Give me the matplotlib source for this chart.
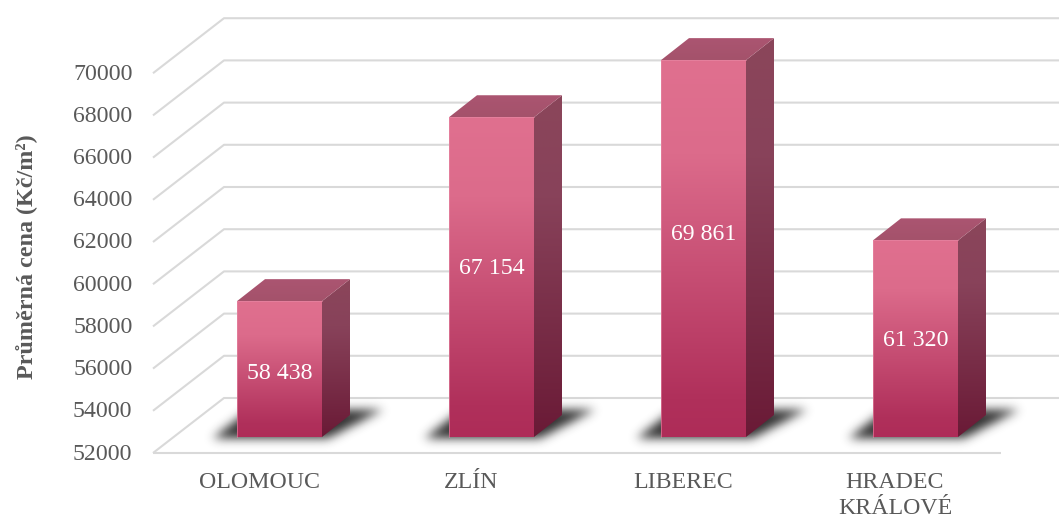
import numpy as np
import matplotlib
matplotlib.use('Agg')
from matplotlib import pyplot as plt
from matplotlib.colors import LinearSegmentedColormap
from matplotlib.patches import Polygon
from matplotlib.path import Path

cities = ['OLOMOUC', 'ZLÍN', 'LIBEREC', 'HRADEC\nKRÁLOVÉ']
prices = [58438, 67154, 69861, 61320]
price_labels = ['58 438', '67 154', '69 861', '61 320']
y_ticks = [52000, 54000, 56000, 58000, 60000, 62000, 64000, 66000, 68000, 70000]

plt.rcParams['font.family'] = ['Liberation Serif', 'DejaVu Serif']

W, H = 1059, 518
PX_X = 212.0      # pixels per category
PX_Y = 42.2 / 2000  # pixels per Kc
X0, Y0 = 153.0, 453.0  # pixel of the front floor corner
FS = 17.2

fig = plt.figure(figsize=(W / 100, H / 100), dpi=100)
ax = fig.add_axes([0, 0, 1, 1])
ax.set_xlim(-X0 / PX_X, (W - X0) / PX_X)
ax.set_ylim(y_ticks[0] - (H - Y0) / PX_Y, y_ticks[0] + Y0 / PX_Y)
ax.axis('off')


def dx(px):
    return px / PX_X


def dy(px):
    return px / PX_Y


# walls and floor
wall_dx, wall_dy = dx(71), dy(55)
n = len(cities)
grid = dict(color='#d9d9d9', lw=1.5, zorder=1, solid_capstyle='butt')
for v in y_ticks:
    ax.plot([0, wall_dx, n + wall_dx], [v, v + wall_dy, v + wall_dy], **grid)
ax.plot([0, n], [y_ticks[0], y_ticks[0]], **grid)

front_cmap = LinearSegmentedColormap.from_list('front', [(0, '#e0708f'), (0.25, '#dc6b8b'), (0.9, '#b0305b'), (1, '#ae2c58')])
side_cmap = LinearSegmentedColormap.from_list('side', [(0, '#8b465a'), (0.3, '#88425a'), (1, '#6a1a36')])
top_cmap = LinearSegmentedColormap.from_list('top', ['#ab5571', '#a4526b'])
ramp = np.linspace(0, 1, 256).reshape(-1, 1)


def gradient_face(pts, cmap, z):
    pts = np.array(pts)
    poly = Polygon(pts, closed=True, fc='none', ec='none', zorder=z)
    ax.add_patch(poly)
    im = ax.imshow(ramp, cmap=cmap, aspect='auto', zorder=z,
                   extent=[pts[:, 0].min(), pts[:, 0].max(), pts[:, 1].min(), pts[:, 1].max()])
    im.set_clip_path(poly)


def shadow(x, base):
    # blurred parallelogram lying on the floor round the foot of the bar
    xs = np.arange(-60, 190)
    ys = np.arange(-30, 55)
    gx, gy = np.meshgrid(xs, ys)
    shape = Path([(-24, -1), (90, -2), (145, 27), (12, 27)])
    mask = shape.contains_points(np.c_[gx.ravel(), gy.ravel()]).reshape(gx.shape).astype(float)
    kernel = np.exp(-np.arange(-15, 16) ** 2 / (2 * 5.0 ** 2))
    kernel /= kernel.sum()
    mask = np.apply_along_axis(lambda r: np.convolve(r, kernel, mode='same'), 0, mask)
    mask = np.apply_along_axis(lambda r: np.convolve(r, kernel, mode='same'), 1, mask)
    rgba = np.zeros(mask.shape + (4,))
    rgba[..., :3] = 0.12
    rgba[..., 3] = mask * 0.92
    ax.imshow(rgba, origin='lower', aspect='auto', zorder=2, interpolation='bilinear',
              extent=[x + dx(xs[0]), x + dx(xs[-1]), base + dy(ys[0]), base + dy(ys[-1])])


# bars
bar_w = dx(85)
front_dx, front_dy = dx(20.5), dy(16)
back_dx, back_dy = dx(28), dy(22)
label_frac = [0.465, 0.528, 0.538, 0.49]
for i, price in enumerate(prices):
    x = i + 0.5 - bar_w / 2 + front_dx
    base = y_ticks[0] + front_dy
    h = price - y_ticks[0]
    top = base + h
    shadow(x, base)
    gradient_face([(x + bar_w, base), (x + bar_w + back_dx, base + back_dy),
                   (x + bar_w + back_dx, top + back_dy), (x + bar_w, top)], side_cmap, 3)
    gradient_face([(x, top), (x + bar_w, top), (x + bar_w + back_dx, top + back_dy),
                   (x + back_dx, top + back_dy)], top_cmap, 3)
    gradient_face([(x, base), (x + bar_w, base), (x + bar_w, top), (x, top)], front_cmap, 4)
    ax.plot([x, x, x + bar_w], [base, top, top], color='#e88aa6', lw=0.6, alpha=0.7, zorder=5)
    ax.text(x + bar_w / 2, base + h * label_frac[i], price_labels[i], color='white',
            fontsize=FS, ha='center', va='center', zorder=6)

# axis text
for v in y_ticks:
    ax.text(-dx(20.5), v - dy(1), str(v), color='#595959', fontsize=FS, ha='right', va='center')
for i, city in enumerate(cities):
    ax.text(i + 0.5, y_ticks[0] - dy(18.5), city, color='#595959', fontsize=FS, ha='center',
            va='top', linespacing=1.36)
ax.text(-dx(127), y_ticks[0] + dy(196), 'Průměrná cena (Kč/m²)', color='#595959', fontsize=17.4,
        fontweight='bold', rotation=90, ha='center', va='center')

ax.set_xlim(-X0 / PX_X, (W - X0) / PX_X)
ax.set_ylim(y_ticks[0] - (H - Y0) / PX_Y, y_ticks[0] + Y0 / PX_Y)
fig.savefig('out.png', dpi=100)
